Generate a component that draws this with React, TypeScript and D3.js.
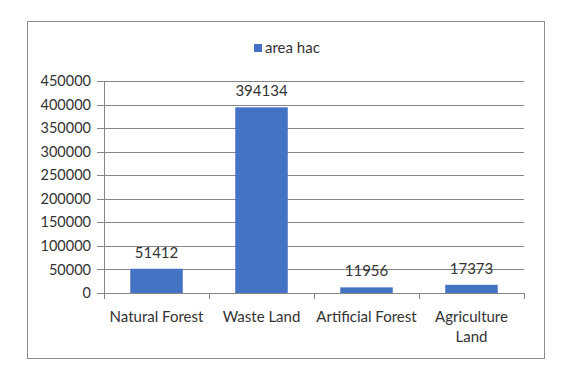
import { useEffect, useRef } from "react";
import * as d3 from "d3";

const categories = ["Natural Forest", "Waste Land", "Artificial Forest", "Agriculture Land"];
const areaHac = [51412, 394134, 11956, 17373];
const yTicks = [0, 50000, 100000, 150000, 200000, 250000, 300000, 350000, 400000, 450000];
const seriesName = "area hac";

const width = 563;
const height = 372;

export default function App() {
  const svgRef = useRef<SVGSVGElement>(null);

  useEffect(() => {
    const svg = d3.select(svgRef.current);
    svg.selectAll("*").remove();

    const font = "Lato, 'Open Sans', sans-serif";
    const textColor = "#333333";
    const gridColor = "#868686";
    const barColor = "#4472C4";

    // chart border
    svg
      .append("rect")
      .attr("x", 27.5)
      .attr("y", 21.5)
      .attr("width", 517)
      .attr("height", 337)
      .attr("fill", "white")
      .attr("stroke", "#8c8c8c");

    const x = d3.scaleBand().domain(categories).range([104, 524]).paddingInner(0.5).paddingOuter(0.25);
    const y = d3.scaleLinear().domain([0, 450000]).range([293, 81]);

    // gridlines + y ticks
    const yAxis = svg.append("g");
    yAxis
      .selectAll("line")
      .data(yTicks)
      .enter()
      .append("line")
      .attr("x1", 97)
      .attr("x2", 524)
      .attr("y1", (d) => Math.round(y(d)) + 0.5)
      .attr("y2", (d) => Math.round(y(d)) + 0.5)
      .attr("stroke", gridColor);

    yAxis
      .selectAll("text")
      .data(yTicks)
      .enter()
      .append("text")
      .attr("x", 91)
      .attr("y", (d) => y(d))
      .attr("dy", "0.35em")
      .attr("text-anchor", "end")
      .attr("font-family", font)
      .attr("font-size", 14.5)
      .attr("fill", textColor)
      .text((d) => String(d));

    // bars
    svg
      .selectAll(".bar")
      .data(areaHac)
      .enter()
      .append("rect")
      .attr("class", "bar")
      .attr("x", (d, i) => x(categories[i])!)
      .attr("width", x.bandwidth())
      .attr("y", (d) => y(d))
      .attr("height", (d) => y(0) - y(d))
      .attr("fill", barColor);

    // value labels
    svg
      .selectAll(".val")
      .data(areaHac)
      .enter()
      .append("text")
      .attr("class", "val")
      .attr("x", (d, i) => x(categories[i])! + x.bandwidth() / 2)
      .attr("y", (d) => y(d) - 11)
      .attr("text-anchor", "middle")
      .attr("font-family", font)
      .attr("font-size", 15)
      .attr("fill", textColor)
      .text((d) => String(d));

    // y axis line
    svg
      .append("line")
      .attr("x1", 104.5)
      .attr("x2", 104.5)
      .attr("y1", 81)
      .attr("y2", 293)
      .attr("stroke", gridColor);

    // x axis line + ticks
    svg
      .append("line")
      .attr("x1", 97)
      .attr("x2", 524)
      .attr("y1", 293.5)
      .attr("y2", 293.5)
      .attr("stroke", gridColor);

    const step = x.step();
    const bounds = d3.range(categories.length + 1).map((i) => 104 + i * step);
    svg
      .selectAll(".xtick")
      .data(bounds)
      .enter()
      .append("line")
      .attr("class", "xtick")
      .attr("x1", (d) => Math.round(d) + 0.5)
      .attr("x2", (d) => Math.round(d) + 0.5)
      .attr("y1", 293)
      .attr("y2", 299)
      .attr("stroke", gridColor);

    // category labels (wrap long ones)
    const maxW = step + 2;
    categories.forEach((c, i) => {
      const cx = x(c)! + x.bandwidth() / 2;
      const t = svg
        .append("text")
        .attr("x", cx)
        .attr("y", 322)
        .attr("text-anchor", "middle")
        .attr("font-family", font)
        .attr("font-size", 15)
        .attr("fill", textColor)
        .text(c);
      const node = t.node() as SVGTextElement;
      if (node.getComputedTextLength() > maxW) {
        const words = c.split(" ");
        t.text(null);
        words.forEach((w, j) => {
          t.append("tspan")
            .attr("x", cx)
            .attr("dy", j === 0 ? 0 : 20)
            .text(w);
        });
      }
    });

    // legend
    const legend = svg.append("g");
    legend
      .append("rect")
      .attr("x", 254)
      .attr("y", 44)
      .attr("width", 8)
      .attr("height", 8)
      .attr("fill", barColor);
    legend
      .append("text")
      .attr("x", 265)
      .attr("y", 48)
      .attr("dy", "0.35em")
      .attr("font-family", font)
      .attr("font-size", 15)
      .attr("fill", textColor)
      .text(seriesName);
  }, []);

  return (
    <svg
      ref={svgRef}
      width={width}
      height={height}
      style={{ position: "absolute", left: 0, top: 0, background: "white" }}
    ></svg>
  );
}
